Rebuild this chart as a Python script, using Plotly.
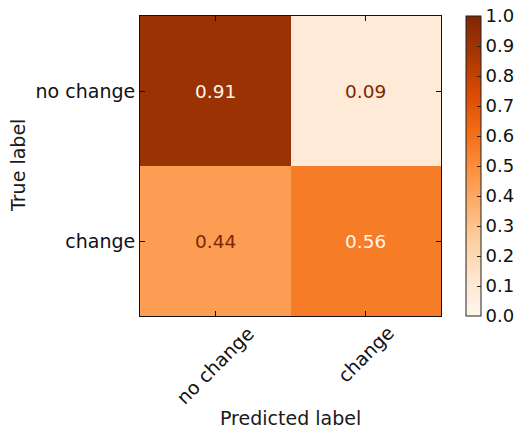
import plotly.graph_objects as go

classes = ["no change", "change"]
values = [[0.91, 0.09],
          [0.44, 0.56]]
cbar_ticks = [0.0, 0.1, 0.2, 0.3, 0.4, 0.5, 0.6, 0.7, 0.8, 0.9, 1.0]

FONT = "DejaVu Sans"
dark_txt = "#7f2704"
light_txt = "#fff5eb"

fig = go.Figure()
fig.add_trace(go.Heatmap(
    z=values, x=[0, 1], y=[0, 1],
    colorscale="Oranges", zmin=0, zmax=1,
    hoverinfo="skip",
    colorbar=dict(
        x=(466 - 140) / 301, xanchor="left", xpad=0, ypad=0,
        y=0.5, yanchor="middle", len=1, lenmode="fraction",
        thickness=15, outlinewidth=1, outlinecolor="#222",
        tickvals=cbar_ticks, ticktext=[f"{v:.1f}" for v in cbar_ticks],
        ticks="inside", ticklen=4, tickcolor="#222",
        ticklabeloverflow="allow",
        tickfont=dict(family=FONT, size=18, color="#111"),
    ),
))

annotations = []
for i, row in enumerate(values):
    for j, v in enumerate(row):
        annotations.append(dict(
            x=j, y=i, xref="x", yref="y", text=f"{v:.2f}", showarrow=False,
            font=dict(family=FONT, size=18.5, color=light_txt if v > 0.5 else dark_txt),
        ))
# rotated x tick labels, centred on their ticks
for j, name in enumerate(classes):
    annotations.append(dict(
        x=j, y=(316 - 319) / 300, xref="x", yref="paper", text=name,
        showarrow=False, textangle=-45, xanchor="center", yanchor="top",
        font=dict(family=FONT, size=19, color="#111"),
    ))
annotations.append(dict(
    x=0.5, y=(316 - 418) / 300, xref="paper", yref="paper", text="Predicted label",
    showarrow=False, xanchor="center", yanchor="middle",
    font=dict(family=FONT, size=19, color="#1a1a1a"),
))
annotations.append(dict(
    x=(18 - 140) / 301, y=0.5, xref="paper", yref="paper", text="True label",
    showarrow=False, xanchor="center", yanchor="middle", textangle=-90,
    font=dict(family=FONT, size=19, color="#1a1a1a"),
))

axis_common = dict(
    showgrid=False, zeroline=False, showline=True, linecolor="#111", linewidth=1,
    mirror="ticks", ticks="inside", ticklen=5, tickcolor="#111", tickwidth=1,
    tickfont=dict(family=FONT, size=19, color="#111"),
    range=[-0.5, 1.5], tickvals=[0, 1], ticktext=classes, fixedrange=True,
    automargin=False,
)

fig.update_layout(
    width=519, height=432,
    margin=dict(l=140, r=78, t=16, b=116, autoexpand=False),
    paper_bgcolor="white", plot_bgcolor="white",
    xaxis=dict(**axis_common, showticklabels=False),
    yaxis=dict(**axis_common),
    annotations=annotations,
    showlegend=False,
)
fig.update_yaxes(range=[1.5, -0.5])

fig.write_html(
    "out.html",
    config={"displayModeBar": False, "staticPlot": True},
    post_script="document.body.style.margin='0';document.body.style.overflow='hidden';",
)
